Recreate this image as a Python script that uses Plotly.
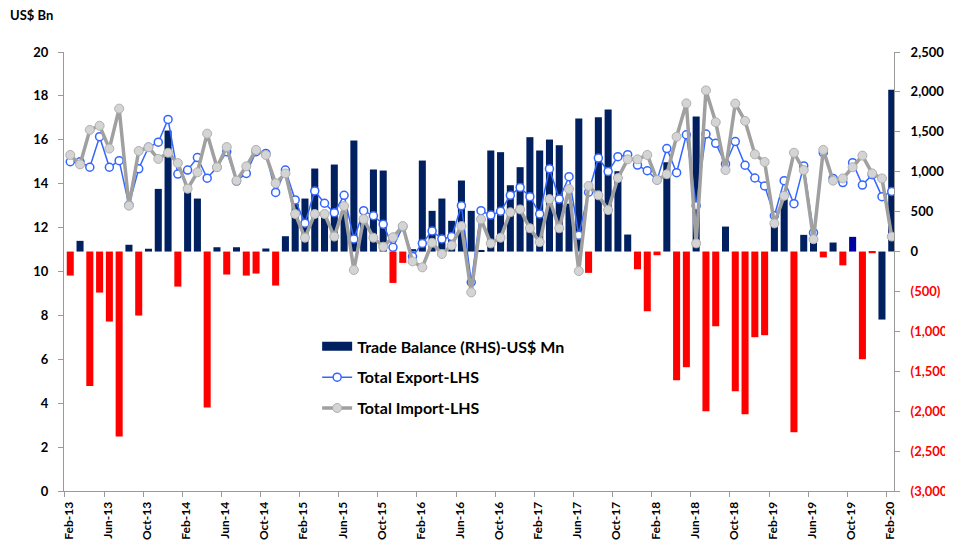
import plotly.graph_objects as go

# ---- data ----
tick_labels = ["Feb-13", "Jun-13", "Oct-13", "Feb-14", "Jun-14", "Oct-14",
               "Feb-15", "Jun-15", "Oct-15", "Feb-16", "Jun-16", "Oct-16",
               "Feb-17", "Jun-17", "Oct-17", "Feb-18", "Jun-18", "Oct-18",
               "Feb-19", "Jun-19", "Oct-19", "Feb-20"]

# Total exports, US$ Bn (monthly, Feb-13 .. Feb-20)
exports = [15.00, 15.00, 14.75, 16.14, 14.75, 15.05, 13.03, 14.68, 15.66, 15.89,
           16.93, 14.44, 14.62, 15.19, 14.25, 14.75, 15.46, 14.12, 14.47, 15.46,
           15.38, 13.60, 14.62, 13.26, 12.20, 13.67, 13.11, 12.68, 13.47, 11.48,
           12.77, 12.54, 12.15, 11.10, 12.04, 10.68, 11.28, 11.85, 11.48, 11.59,
           13.00, 9.51, 12.77, 12.57, 12.74, 13.47, 13.83, 13.41, 12.62, 14.68,
           13.30, 14.32, 11.65, 13.61, 15.17, 14.56, 15.23, 15.32, 14.85, 14.59,
           14.17, 15.60, 14.50, 16.23, 13.00, 16.26, 15.84, 14.90, 15.92, 14.84,
           14.26, 13.90, 12.54, 14.14, 13.09, 14.81, 11.77, 15.41, 14.24, 14.05,
           14.96, 13.94, 14.41, 13.41, 13.65]

# Total imports, US$ Bn
imports = [15.31, 14.88, 16.45, 16.64, 15.60, 17.42, 13.00, 15.49, 15.66, 15.13,
           15.41, 14.94, 13.77, 14.52, 16.28, 14.75, 15.67, 14.14, 14.79, 15.54,
           15.31, 14.02, 14.47, 12.62, 11.54, 12.62, 12.62, 11.59, 12.98, 10.07,
           12.39, 11.54, 11.13, 11.56, 12.07, 10.46, 10.19, 11.31, 10.80, 11.19,
           12.07, 9.05, 12.38, 11.28, 11.54, 12.70, 12.83, 11.97, 11.34, 13.30,
           11.97, 13.76, 10.02, 13.90, 13.47, 12.80, 14.26, 15.11, 15.11, 15.31,
           14.17, 14.43, 16.14, 17.66, 11.28, 18.25, 16.80, 14.62, 17.65, 16.86,
           15.34, 14.99, 12.19, 13.45, 15.41, 14.62, 11.47, 15.54, 14.14, 14.24,
           14.75, 15.28, 14.47, 14.24, 11.59]

# Trade balance, US$ Mn (right-hand scale)
balance = [-301, 134, -1683, -514, -877, -2318, 85, -802, 35, 785,
           1516, -439, 743, 664, -1955, 54, -288, 54, -301, -276,
           38, -426, 192, 600, 664, 1040, 490, 1090, 490, 1391,
           380, 1028, 1015, -393, -142, 30, 1140, 510, 664, 385,
           890, 510, 20, 1266, 1245, 831, 1057, 1433, 1266, 1403,
           1332, 600, 1667, -267, 1683, 1779, 1007, 213, -222, -748,
           -46, 1119, -1612, -1449, 1692, -2001, -936, 313, -1750, -2038,
           -1073, -1048, 350, 656, -2264, 209, 200, -73, 113, -173,
           184, -1349, -21, -852, 2026]

rhs_ticks = [-3000, -2500, -2000, -1500, -1000, -500, 0, 500, 1000, 1500, 2000, 2500]
lhs_ticks = [0, 2, 4, 6, 8, 10, 12, 14, 16, 18, 20]

# ---- styling ----
NAVY = "#002060"
RED = "#FF0000"
BRIGHT_BLUE = "#0000A0"
EXP_BLUE = "#3366FF"
IMP_GREY = "#A0A0A0"
AXIS_GREY = "#9A9A9A"
FONT = "Lato"

x = list(range(len(balance)))

# Bars: navy bars (incl. the navy negative Jan-20 bar) and red bars
navy_idx = [i for i, v in enumerate(balance) if v >= 0 or i == 83]
navy_y = [balance[i] if i in navy_idx else None for i in x]
red_y = [None if i in navy_idx else balance[i] for i in x]
navy_colors = [BRIGHT_BLUE if i == 80 else NAVY for i in x]

fig = go.Figure()

fig.add_trace(go.Bar(x=x, y=navy_y, marker=dict(color=navy_colors, line=dict(width=0)),
                     width=0.72, showlegend=False, yaxis="y", hoverinfo="skip"))
fig.add_trace(go.Bar(x=x, y=red_y, marker=dict(color=RED, line=dict(width=0)),
                     width=0.72, showlegend=False, yaxis="y", hoverinfo="skip"))

# legend-only entry for the bars (wide rectangle symbol)
fig.add_trace(go.Scatter(x=[None], y=[None], mode="lines",
                         line=dict(color=NAVY, width=9),
                         name="Trade Balance (RHS)-US$ Mn", legendgroup="a", yaxis="y"))

fig.add_trace(go.Scatter(x=x, y=exports, mode="lines+markers", name="Total Export-LHS",
                         legendgroup="b", yaxis="y2",
                         line=dict(color=EXP_BLUE, width=1.5),
                         marker=dict(symbol="circle", size=8, color="white",
                                     line=dict(color=EXP_BLUE, width=1.5))))
fig.add_trace(go.Scatter(x=x, y=imports, mode="lines+markers", name="Total Import-LHS",
                         legendgroup="c", yaxis="y2",
                         line=dict(color=IMP_GREY, width=3.5),
                         marker=dict(symbol="circle", size=9, color="#D4D4D4",
                                     line=dict(color="#B0B0B0", width=1))))


def rhs_label(v):
    if v < 0:
        return '<span style="color:#FF0000">(' + f"{-v:,}" + ")</span>"
    return f"{v:,}"


# The page body adds an 8px offset, so the figure is 8px smaller than the window
fig.update_layout(
    width=945, height=539,
    margin=dict(l=56, r=59, t=44, b=56, autoexpand=False),
    paper_bgcolor="white", plot_bgcolor="white",
    font=dict(family=FONT, size=13, color="black", weight="bold"),
    barmode="overlay",
    xaxis=dict(range=[-0.64, 84.23], tickmode="array", automargin=False,
               tickvals=[4 * k - 0.55 for k in range(len(tick_labels))],
               ticktext=tick_labels, tickangle=-90, ticklabelshift=4,
               tickfont=dict(family=FONT, size=12, weight="bold", color="black"),
               showline=True, linecolor=AXIS_GREY, linewidth=1,
               ticks="outside", ticklen=5, tickcolor=AXIS_GREY,
               showgrid=False, zeroline=False),
    yaxis=dict(side="right", range=[-3000, 2500], tickmode="array", automargin=False,
               tickvals=rhs_ticks, ticktext=[rhs_label(v) for v in rhs_ticks],
               tickfont=dict(family=FONT, size=13, weight="bold", color="black"),
               showline=True, linecolor=AXIS_GREY, linewidth=1,
               ticks="outside", ticklen=5, tickcolor=AXIS_GREY,
               ticklabelstandoff=8,
               showgrid=False, zeroline=False),
    yaxis2=dict(side="left", overlaying="y", range=[0, 20], tickmode="array",
                automargin=False,
                tickvals=lhs_ticks, ticktext=[str(v) for v in lhs_ticks],
                tickfont=dict(family=FONT, size=13, weight="bold", color="black"),
                showline=True, linecolor=AXIS_GREY, linewidth=1,
                ticks="outside", ticklen=5, tickcolor=AXIS_GREY,
                ticklabelstandoff=7,
                showgrid=False, zeroline=False),
    legend=dict(x=0.305, y=0.368, xanchor="left", yanchor="top",
                bgcolor="rgba(0,0,0,0)", tracegroupgap=7,
                font=dict(family=FONT, size=16, weight="bold", color="black")),
    annotations=[dict(text="US$ Bn", xref="paper", yref="paper",
                      x=-0.068, y=1.085, xanchor="left", yanchor="middle",
                      showarrow=False,
                      font=dict(family=FONT, size=13, weight="bold", color="black"))],
)

fig.write_html("out.html")
